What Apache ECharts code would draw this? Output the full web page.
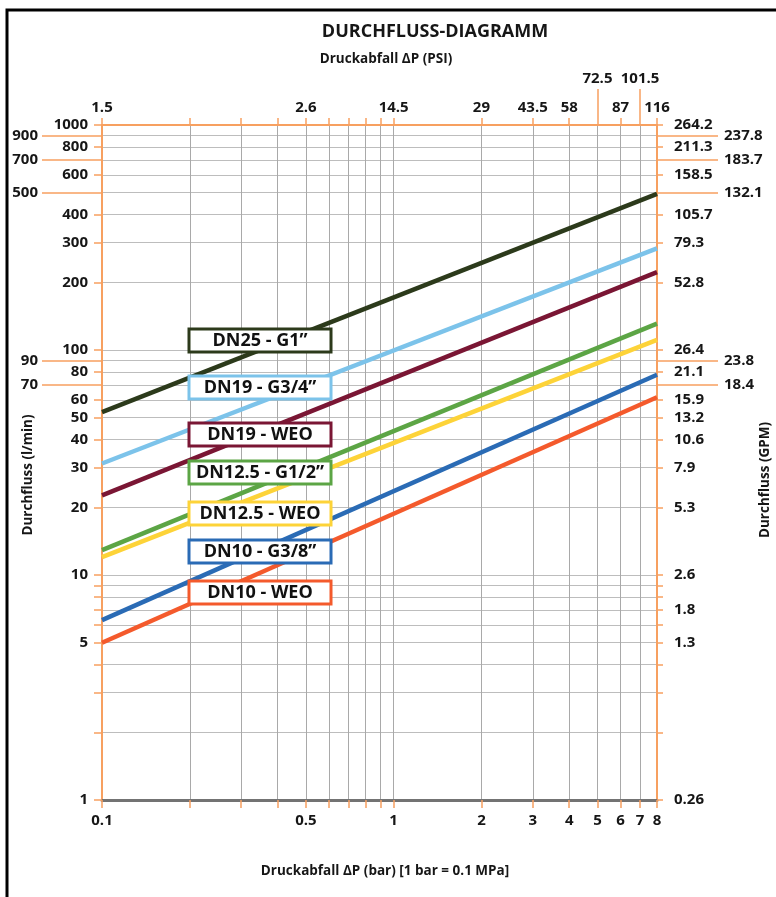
<!DOCTYPE html>
<html><head><meta charset="utf-8">
<script src="https://cdn.jsdelivr.net/npm/echarts@6/dist/echarts.min.js"></script>
<style>html,body{margin:0;padding:0;background:#fff}#c{width:776px;height:897px}</style>
</head><body><div id="c"></div>
<script>
// ---------- data ----------
const seriesNames = ['DN25 - G1\u201D', 'DN19 - G3/4\u201D', 'DN19 - WEO', 'DN12.5 - G1/2\u201D', 'DN12.5 - WEO', 'DN10 - G3/8\u201D', 'DN10 - WEO'];
const pressureBar = [0.1, 8];
const flowDN25G1 = [53, 494];
const flowDN19G34 = [31.3, 283];
const flowDN19WEO = [22.6, 222];
const flowDN125G12 = [12.9, 131];
const flowDN125WEO = [12.0, 111];
const flowDN10G38 = [6.3, 77.6];
const flowDN10WEO = [5.0, 61.7];

const barTicks = [0.1, 0.2, 0.3, 0.4, 0.5, 0.6, 0.7, 0.8, 0.9, 1, 2, 3, 4, 5, 6, 7, 8];
const barLabels = [0.1, 0.5, 1, 2, 3, 4, 5, 6, 7, 8];
const psiValues = [0.1, 0.5, 1, 2, 3, 4, 6, 8];
const psiLabels = ['1.5', '2.6', '14.5', '29', '43.5', '58', '87', '116'];
const psiHighValues = [5, 7];
const psiHighLabels = ['72.5', '101.5'];
const flowTicks = [1, 2, 3, 4, 5, 6, 7, 8, 9, 10, 20, 30, 40, 50, 60, 70, 80, 90, 100, 200, 300, 400, 500, 600, 700, 800, 900, 1000];
const lpmLabels = [1, 5, 10, 20, 30, 40, 50, 60, 80, 100, 200, 300, 400, 600, 800, 1000];
const lpmOffsetLabels = [70, 90, 500, 700, 900];
const gpmValues = [1, 5, 7, 10, 20, 30, 40, 50, 60, 80, 100, 200, 300, 400, 600, 800, 1000];
const gpmLabels = ['0.26', '1.3', '1.8', '2.6', '5.3', '7.9', '10.6', '13.2', '15.9', '21.1', '26.4', '52.8', '79.3', '105.7', '158.5', '211.3', '264.2'];
const gpmOffsetValues = [70, 90, 500, 700, 900];
const gpmOffsetLabels = ['18.4', '23.8', '132.1', '183.7', '237.8'];

// ---------- styles ----------
const flows = [flowDN25G1, flowDN19G34, flowDN19WEO, flowDN125G12, flowDN125WEO, flowDN10G38, flowDN10WEO];
const colors = ['#2C3A1B', '#7CC3EA', '#7A1634', '#5CA545', '#FDD338', '#2A6BB5', '#F45A2C'];
const boxTops = [329, 376, 423, 461, 502, 540, 581];
const ORANGE = '#F7A060';
const FONT = '"Open Sans", "Noto Sans", sans-serif';
const labelStyle = { color: '#161616', fontSize: 15, fontWeight: 'bold', fontFamily: FONT };

function lookup(values, labels) {
  return function (v) {
    for (let i = 0; i < values.length; i++) {
      if (Math.abs(values[i] - v) < 1e-6 * values[i]) return labels[i];
    }
    return '';
  };
}
const numFmt = v => String(+(+v).toPrecision(6));

const chart = echarts.init(document.getElementById('c'), null, { renderer: 'canvas' });

const series = seriesNames.map((name, i) => ({
  name: name,
  type: 'line',
  xAxisIndex: 0,
  yAxisIndex: 0,
  data: pressureBar.map((p, j) => [p, flows[i][j]]),
  showSymbol: false,
  symbol: 'none',
  lineStyle: { color: colors[i], width: 4.5 },
  itemStyle: { color: colors[i] },
  z: 2,
  silent: true
}));

const graphics = [
  { type: 'rect', z: 100, shape: { x: 7, y: 10, width: 820, height: 920 }, style: { fill: 'none', stroke: '#000', lineWidth: 3 } },
  { type: 'text', x: 435, y: 32, style: { text: 'DURCHFLUSS-DIAGRAMM', font: 'bold 18px ' + FONT, fill: '#161616', textAlign: 'center', textVerticalAlign: 'middle' } },
  { type: 'text', x: 386, y: 59, style: { text: 'Druckabfall \u0394P (PSI)', font: 'bold 13.5px ' + FONT, fill: '#161616', textAlign: 'center', textVerticalAlign: 'middle' } },
  { type: 'text', x: 385, y: 871, style: { text: 'Druckabfall \u0394P (bar) [1 bar = 0.1 MPa]', font: 'bold 13.5px ' + FONT, fill: '#161616', textAlign: 'center', textVerticalAlign: 'middle' } },
  { type: 'text', x: 28, y: 475, rotation: Math.PI / 2, style: { text: 'Durchfluss (l/min)', font: 'bold 13.5px ' + FONT, fill: '#161616', textAlign: 'center', textVerticalAlign: 'middle' } },
  { type: 'text', x: 765, y: 480, rotation: Math.PI / 2, style: { text: 'Durchfluss (GPM)', font: 'bold 13.5px ' + FONT, fill: '#161616', textAlign: 'center', textVerticalAlign: 'middle' } }
];
seriesNames.forEach((name, i) => {
  graphics.push({ type: 'rect', z: 60, shape: { x: 189, y: boxTops[i], width: 142, height: 23 }, style: { fill: '#fff', stroke: colors[i], lineWidth: 3 } });
  graphics.push({ type: 'text', z: 61, x: 260, y: boxTops[i] + 12, style: { text: name, font: 'bold 18px ' + FONT, fill: '#111', textAlign: 'center', textVerticalAlign: 'middle' } });
});

const logX = { type: 'log', logBase: 10, min: 0.1, max: 8 };
const logY = { type: 'log', logBase: 10, min: 1, max: 1000 };

chart.setOption({
  animation: false,
  backgroundColor: '#fff',
  grid: { left: 102, right: 119, top: 125, bottom: 97, containLabel: false },
  xAxis: [
    Object.assign({}, logX, {
      position: 'bottom',
      axisLine: { show: true, onZero: false, lineStyle: { color: '#737373', width: 3 } },
      axisTick: { show: true, customValues: barTicks, length: 8, lineStyle: { color: ORANGE, width: 1.5 } },
      axisLabel: Object.assign({ customValues: barLabels, formatter: numFmt, margin: 13 }, labelStyle),
      splitLine: { show: true, lineStyle: { color: '#a9a9a9', width: 1 } },
      minorTick: { show: false }, minorSplitLine: { show: false }
    }),
    Object.assign({}, logX, {
      position: 'top',
      axisLine: { show: true, onZero: false, lineStyle: { color: ORANGE, width: 2 } },
      axisTick: { show: true, customValues: barTicks, length: 7, lineStyle: { color: ORANGE, width: 1.5 } },
      axisLabel: Object.assign({ customValues: psiValues, formatter: lookup(psiValues, psiLabels), margin: 10 }, labelStyle),
      splitLine: { show: false }
    }),
    Object.assign({}, logX, {
      position: 'top',
      axisLine: { show: false },
      axisTick: { show: true, customValues: psiHighValues, length: 36, lineStyle: { color: ORANGE, width: 1.5 } },
      axisLabel: Object.assign({ customValues: psiHighValues, formatter: lookup(psiHighValues, psiHighLabels), margin: 39 }, labelStyle),
      splitLine: { show: false }
    })
  ],
  yAxis: [
    Object.assign({}, logY, {
      position: 'left',
      axisLine: { show: true, onZero: false, lineStyle: { color: ORANGE, width: 2 } },
      axisTick: { show: true, customValues: flowTicks, length: 8, lineStyle: { color: ORANGE, width: 1.5 } },
      axisLabel: Object.assign({ customValues: lpmLabels, formatter: numFmt, margin: 14 }, labelStyle),
      splitLine: { show: true, lineStyle: { color: '#bdbdbd', width: 1.2 } },
      minorTick: { show: false }, minorSplitLine: { show: false }
    }),
    Object.assign({}, logY, {
      position: 'left',
      axisLine: { show: false },
      axisTick: { show: true, customValues: lpmOffsetLabels, length: 60, lineStyle: { color: ORANGE, width: 1.5 } },
      axisLabel: Object.assign({ customValues: lpmOffsetLabels, formatter: numFmt, margin: 64 }, labelStyle),
      splitLine: { show: false }
    }),
    Object.assign({}, logY, {
      position: 'right',
      axisLine: { show: true, onZero: false, lineStyle: { color: ORANGE, width: 2 } },
      axisTick: { show: true, customValues: flowTicks, length: 6, lineStyle: { color: ORANGE, width: 1.5 } },
      axisLabel: Object.assign({ customValues: gpmValues, formatter: lookup(gpmValues, gpmLabels), margin: 17 }, labelStyle),
      splitLine: { show: false }
    }),
    Object.assign({}, logY, {
      position: 'right',
      axisLine: { show: false },
      axisTick: { show: true, customValues: gpmOffsetValues, length: 61, lineStyle: { color: ORANGE, width: 1.5 } },
      axisLabel: Object.assign({ customValues: gpmOffsetValues, formatter: lookup(gpmOffsetValues, gpmOffsetLabels), margin: 67 }, labelStyle),
      splitLine: { show: false }
    })
  ],
  series: series,
  graphic: { z: 50, elements: graphics }
});
</script>
</body></html>
